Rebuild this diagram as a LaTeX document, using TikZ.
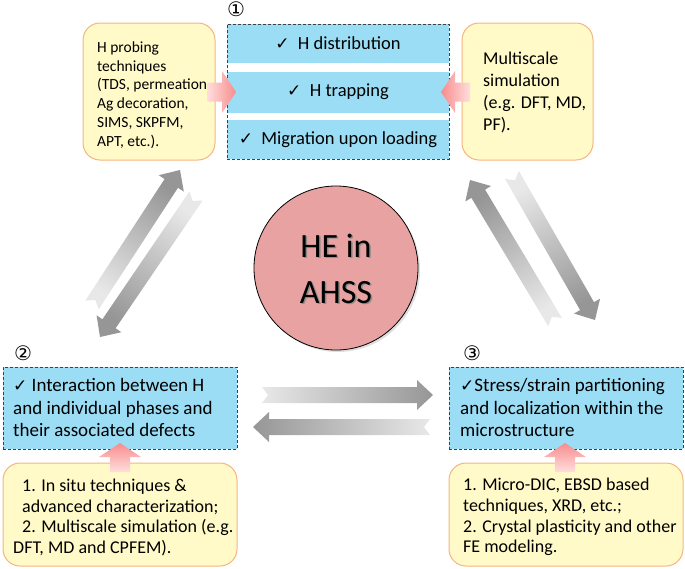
\documentclass[tikz,border=0pt]{standalone}
\usepackage{fontspec}
\setmainfont{Carlito}
\newfontfamily\djv{DejaVu Sans}
\usetikzlibrary{calc,shadows}
\definecolor{yfill}{RGB}{255,250,200}
\definecolor{yedge}{RGB}{245,180,130}
\definecolor{bfill}{RGB}{155,221,245}
\definecolor{cfill}{RGB}{233,162,162}
\definecolor{pinkhead}{RGB}{248,140,140}
\definecolor{pinktail}{RGB}{255,222,222}
\definecolor{gdark}{RGB}{150,150,150}
\definecolor{glight}{RGB}{232,232,232}
\newcommand\chk{{\djv\fontsize{17}{17}\selectfont ✓}}
\newcommand\blockarrow[7]{%
  \coordinate (#1#2c) at ($(#2)!#5!(#1)$);
  \path[#7] ($(#1)!#3!90:(#2)$) -- ($(#1#2c)!#3!90:(#2)$) -- ($(#1#2c)!#4!90:(#2)$) -- (#2)
     -- ($(#1#2c)!#4!-90:(#2)$) -- ($(#1#2c)!#3!-90:(#2)$) -- ($(#1)!#3!-90:(#2)$)
     -- ($(#1)!#6!(#2)$) -- cycle;
}
\tikzset{
  ybox/.style={draw=yedge, fill=yfill, rounded corners=17pt, line width=1pt, inner sep=0pt},
  bstrip/.style={fill=bfill, draw=none, inner sep=0pt, minimum width=222pt},
  dframe/.style={draw=black!75, dash pattern=on 3pt off 2pt, line width=0.9pt, inner sep=0pt},
  txt/.style={inner sep=0pt, align=left, anchor=west},
  num/.style={inner sep=0pt, font=\djv\fontsize{20}{20}\selectfont},
  garrow/.style={bottom color=glight, top color=gdark},
  parrow/.style={bottom color=pinktail, top color=pinkhead},
}
\begin{document}
\begin{tikzpicture}[x=1pt,y=-1pt]
\useasboundingbox (0,0) rectangle (685,568);
% yellow boxes
\node[ybox, minimum width=132pt, minimum height=137pt] (tl) at (149,91.5) {};
\node[ybox, minimum width=131pt, minimum height=137pt] (tr) at (527.5,91.5) {};
\node[ybox, minimum width=234pt, minimum height=103pt] (bl) at (120,514.5) {};
\node[ybox, minimum width=234pt, minimum height=103pt] (br) at (566,514.5) {};
\node[txt, font=\fontsize{15.5}{18.7}\selectfont] (tltxt) at (97,95) {H probing\\techniques\\(TDS, permeation,\\Ag decoration,\\SIMS, SKPFM,\\APT, etc.).};
\node[txt, font=\fontsize{18}{21.7}\selectfont] (trtxt) at (483,92.5) {Multiscale\\simulation\\(e.g. DFT, MD,\\PF).};
\node[txt, font=\fontsize{18}{20.6}\selectfont] (bltxt) at (22,517.5) {1. In situ techniques \&\\advanced characterization;\\2. Multiscale simulation (e.g.\\\hspace*{-9pt}DFT, MD and CPFEM).};
\node[txt, font=\fontsize{18}{20.6}\selectfont] (brtxt) at (463,517) {1. Micro-DIC, EBSD based\\techniques, XRD, etc.;\\2. Crystal plasticity and other\\FE modeling.};
% top blue strips
\node[bstrip, minimum height=39pt, font=\fontsize{18.5}{20}\selectfont] (s1) at (338,43.5) {\chk\ \ H distribution};
\node[bstrip, minimum height=41pt, font=\fontsize{18.5}{20}\selectfont] (s2) at (338,92) {\chk\ \ H trapping};
\node[bstrip, minimum height=39pt, font=\fontsize{18.5}{20}\selectfont] (s3) at (338,139.5) {\chk\ \ Migration upon loading};
\node[dframe, minimum width=222pt, minimum height=135pt] (f1) at (338,91.5) {};
% lower blue boxes
\node[dframe, fill=bfill, minimum width=234pt, minimum height=82pt] (b2) at (120,408) {};
\node[dframe, fill=bfill, minimum width=234pt, minimum height=82pt] (b3) at (566,408) {};
\node[txt, font=\fontsize{19}{22.5}\selectfont] (b2txt) at (13,407.5) {\chk\ Interaction between H\\and individual phases and\\their associated defects};
\node[txt, font=\fontsize{19}{22.5}\selectfont] (b3txt) at (460,407.5) {\chk Stress/strain partitioning\\and localization within the\\microstructure};
% numbers
\node[num] (n1) at (236,9) {①};
\node[num] (n2) at (23,353) {②};
\node[num] (n3) at (472,353) {③};
% pink arrows
\coordinate (pLT) at (207,92); \coordinate (pLH) at (236,92);
\coordinate (pRT) at (470,92); \coordinate (pRH) at (441,92);
\coordinate (pBT) at (120,472); \coordinate (pBH) at (120,443);
\coordinate (pCT) at (565,472); \coordinate (pCH) at (565,443);
\blockarrow{pLT}{pLH}{9.5pt}{21pt}{14pt}{0pt}{parrow, shading angle=-90}
\blockarrow{pRT}{pRH}{9.5pt}{21pt}{14pt}{0pt}{parrow, shading angle=90}
\blockarrow{pBT}{pBH}{10pt}{21pt}{14pt}{0pt}{parrow, shading angle=0}
\blockarrow{pCT}{pCH}{10pt}{21pt}{14pt}{0pt}{parrow, shading angle=0}
% gray arrows
\coordinate (aT) at (92,305); \coordinate (aH) at (180,170);
\coordinate (bT) at (196,196); \coordinate (bH) at (100,337);
\coordinate (cT) at (555,322); \coordinate (cH) at (470,180);
\coordinate (dT) at (512,175); \coordinate (dH) at (595,320);
\coordinate (eT) at (262,395); \coordinate (eH) at (433,395);
\coordinate (fT) at (430,427); \coordinate (fH) at (253,427);
\blockarrow{aT}{aH}{8pt}{15pt}{16pt}{6pt}{garrow, shading angle=-33}
\blockarrow{bT}{bH}{8pt}{15pt}{16pt}{6pt}{garrow, shading angle=146}
\blockarrow{cT}{cH}{8pt}{15pt}{16pt}{6pt}{garrow, shading angle=31}
\blockarrow{dT}{dH}{8pt}{15pt}{16pt}{6pt}{garrow, shading angle=-150}
\blockarrow{eT}{eH}{8pt}{15pt}{16pt}{6pt}{garrow, shading angle=-90}
\blockarrow{fT}{fH}{8pt}{15pt}{16pt}{6pt}{garrow, shading angle=90}
% centre circle
\node[circle, draw=black, line width=0.8pt, fill=cfill, minimum size=164pt, inner sep=0pt,
  drop shadow={opacity=0.25, shadow xshift=2pt, shadow yshift=-2pt}] (he) at (336,268) {};
\node[align=center, inner sep=0pt, text=black!45, font=\fontsize{34}{46}\selectfont] (hesh) at (337.5,270) {HE in\\AHSS};
\node[align=center, inner sep=0pt, font=\fontsize{34}{46}\selectfont] (hetxt) at (336,268.5) {HE in\\AHSS};
\end{tikzpicture}
\end{document}
